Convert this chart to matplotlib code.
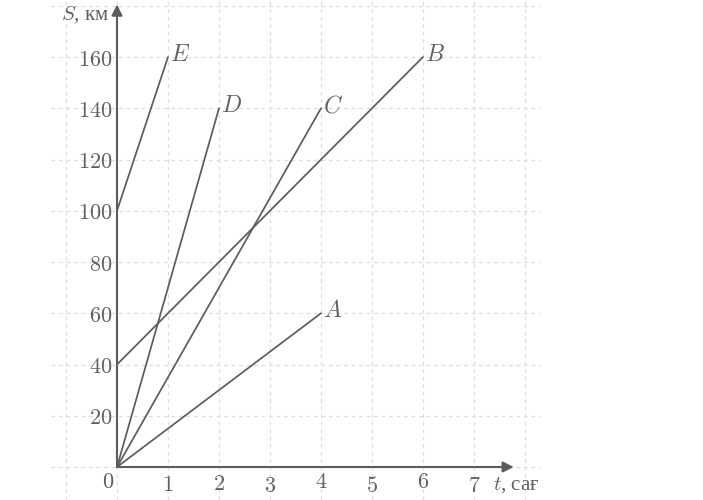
import matplotlib
matplotlib.use("Agg")
import matplotlib.pyplot as plt

plt.rcParams['mathtext.fontset'] = 'cm'

# Data
names = ['A', 'B', 'C', 'D', 'E']
t_start = [0, 0, 0, 0, 0]
t_end = [4, 6, 4, 2, 1]
s_start = [0, 40, 0, 0, 100]
s_end = [60, 160, 140, 140, 160]

x_ticks = [1, 2, 3, 4, 5, 6, 7]
y_ticks = [20, 40, 60, 80, 100, 120, 140, 160]
x_label_dy = [-7.0, -6.6, -7.4, -5.9, -7.4, -5.9, -7.4]

x_grid = [-1, 0, 1, 2, 3, 4, 5, 6, 7, 8]
y_grid = [0, 20, 40, 60, 80, 100, 120, 140, 160, 180]

ink = '#5c5c5c'
txt = '#606060'
gridc = '#dddddd'

fig = plt.figure(figsize=(7.03, 5.0), dpi=100)
ax = fig.add_axes([0, 0, 1, 1])
px_x = 51.0
px_y = 2.5625
ax.set_xlim(-117 / px_x, (703 - 117) / px_x)
ax.set_ylim(-(500 - 467) / px_y, 467 / px_y)
ax.axis('off')

# grid
for g in y_grid:
    ax.plot([-1.3, 8.3], [g, g], color=gridc, lw=0.9, ls=(0, (3, 3)), zorder=1)
for g in x_grid:
    ax.plot([g, g], [-13, 183], color=gridc, lw=0.9, ls=(0, (3, 3)), zorder=1)

# axes with arrows
ax.annotate('', xy=(7.78, 0), xytext=(0, 0),
            arrowprops=dict(arrowstyle='-|>', color=ink, lw=1.5,
                            mutation_scale=16, shrinkA=0, shrinkB=0), zorder=3)
ax.annotate('', xy=(0, 180.5), xytext=(0, 0),
            arrowprops=dict(arrowstyle='-|>', color=ink, lw=1.5,
                            mutation_scale=16, shrinkA=0, shrinkB=0), zorder=3)

# lines
for n, t0, t1, s0, s1 in zip(names, t_start, t_end, s_start, s_end):
    ax.plot([t0, t1], [s0, s1], color=ink, lw=1.25, zorder=4,
            solid_capstyle='round')
    ax.annotate('$' + n + '$', xy=(t1, s1), xytext=(1.5, 2),
                textcoords='offset points', ha='left', va='center',
                fontsize=17, color=txt)

# tick labels
for t, dy in zip(x_ticks, x_label_dy):
    ax.text(t, dy, '$' + str(t) + '$', ha='center', va='center',
            fontsize=16, color=txt)
ax.text(-0.17, -5.9, '$0$', ha='center', va='center', fontsize=16, color=txt)
for s in y_ticks:
    ax.text(-0.09, s - 1, '$' + str(s) + '$', ha='right', va='center',
            fontsize=16, color=txt)

# axis titles
ax.text(7.38, -7.2, '$t$, сағ', ha='left', va='center', fontsize=15,
        color=txt, family='Liberation Serif')
ax.text(-1.1, 176.5, '$S$, км', ha='left', va='center', fontsize=15,
        color=txt, family='Liberation Serif')

fig.savefig('out.png', dpi=100)
